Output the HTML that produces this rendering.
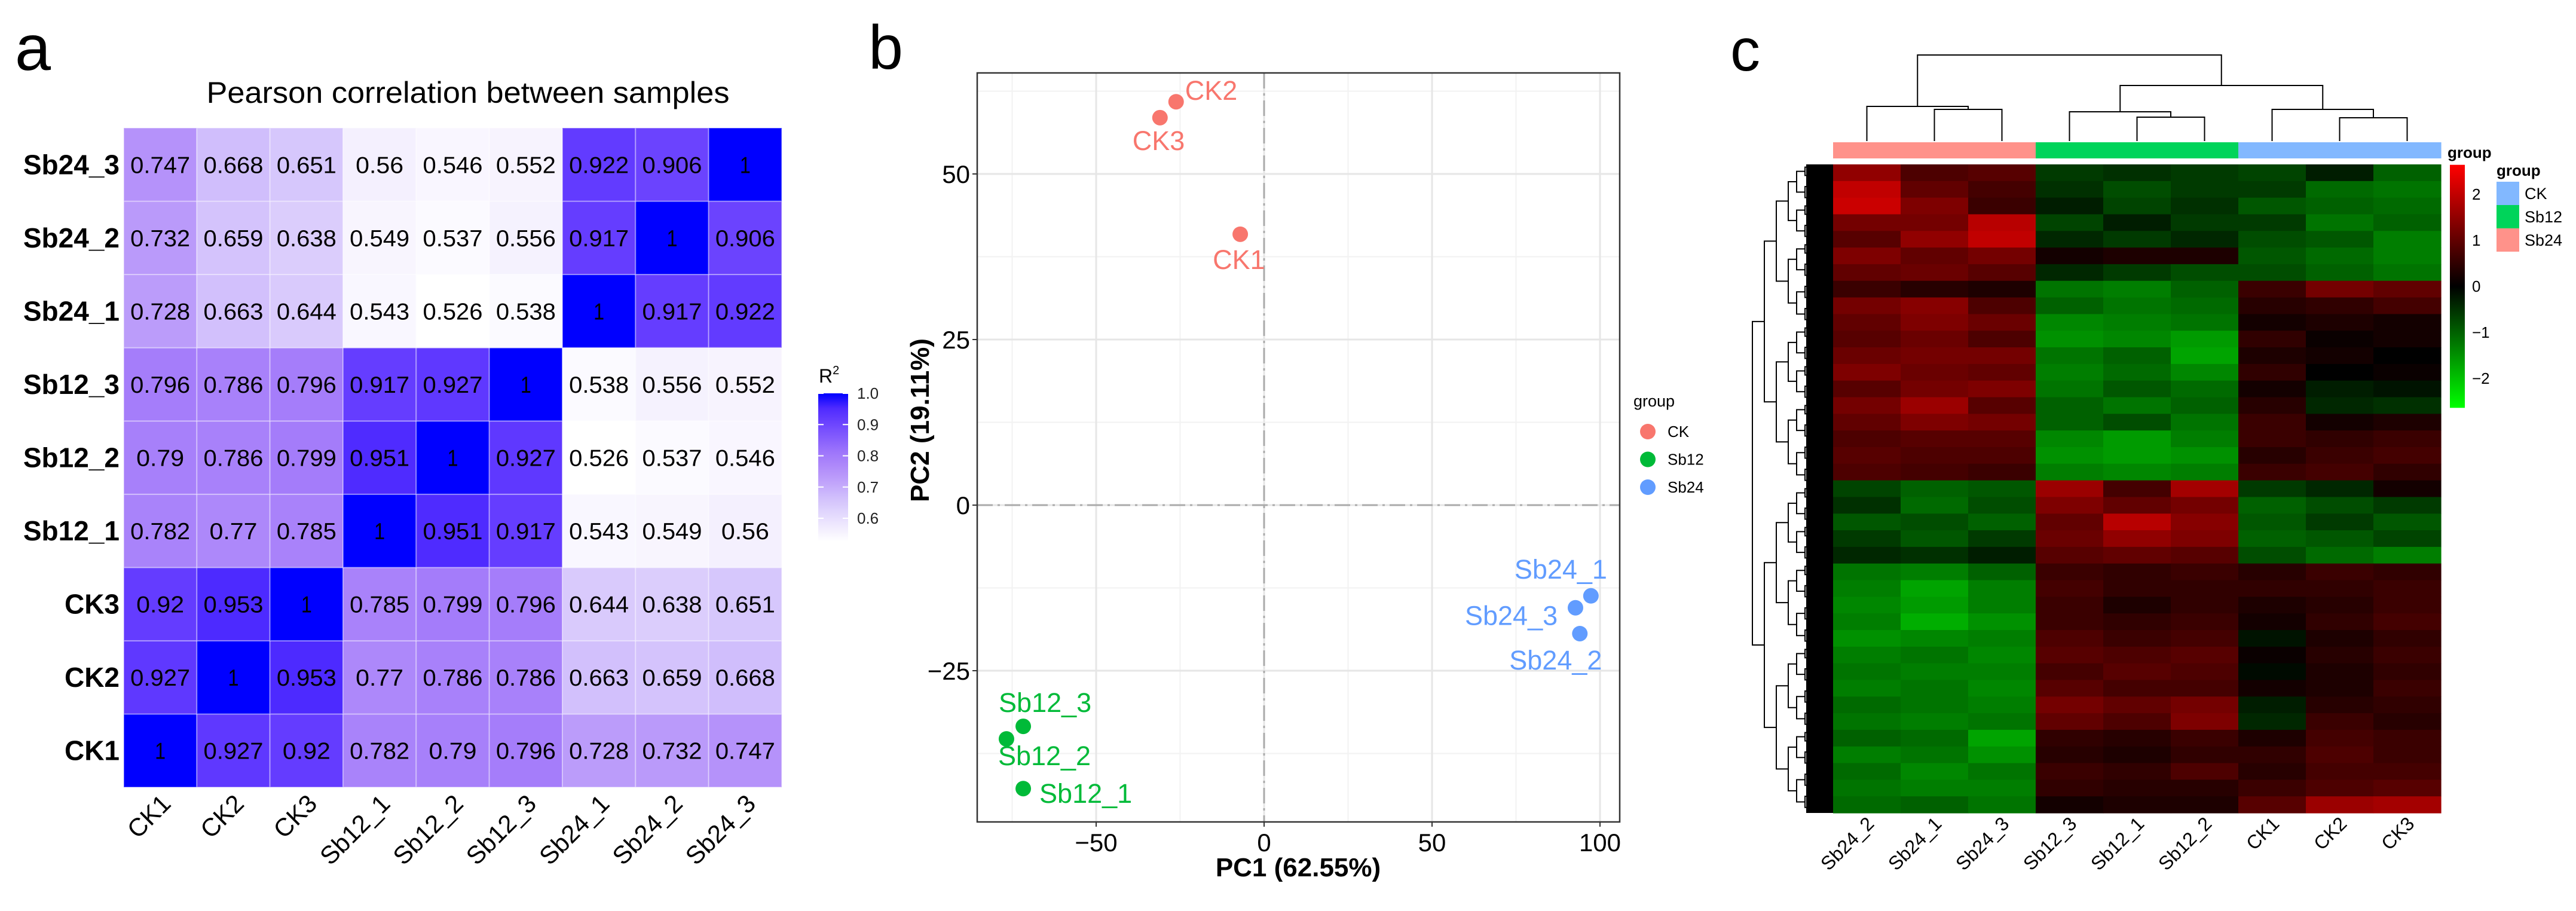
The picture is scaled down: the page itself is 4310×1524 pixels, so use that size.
<!DOCTYPE html>
<html><head><meta charset="utf-8"><style>
html,body{margin:0;padding:0;background:#fff;}
svg{display:block;font-family:"Liberation Sans",Arial,sans-serif;}
</style></head><body>
<svg id="fig" width="4310" height="1524" viewBox="0 0 4310 1524" xmlns="http://www.w3.org/2000/svg">
<rect width="4310" height="1524" fill="#fff"/>
<g id="pa"></g>
<g id="pb"></g>
<g id="pc"></g>
</svg>
<script>
// ---------- Panel A data ----------
const aSamples = ["CK1","CK2","CK3","Sb12_1","Sb12_2","Sb12_3","Sb24_1","Sb24_2","Sb24_3"];
const aCK1   = [1,0.927,0.92,0.782,0.79,0.796,0.728,0.732,0.747];
const aCK2   = [0.927,1,0.953,0.77,0.786,0.786,0.663,0.659,0.668];
const aCK3   = [0.92,0.953,1,0.785,0.799,0.796,0.644,0.638,0.651];
const aSb12_1= [0.782,0.77,0.785,1,0.951,0.917,0.543,0.549,0.56];
const aSb12_2= [0.79,0.786,0.799,0.951,1,0.927,0.526,0.537,0.546];
const aSb12_3= [0.796,0.786,0.796,0.917,0.927,1,0.538,0.556,0.552];
const aSb24_1= [0.728,0.663,0.644,0.543,0.526,0.538,1,0.917,0.922];
const aSb24_2= [0.732,0.659,0.638,0.549,0.537,0.556,0.917,1,0.906];
const aSb24_3= [0.747,0.668,0.651,0.56,0.546,0.552,0.922,0.906,1];
const aLegendTicks = [0.6,0.7,0.8,0.9,1.0];
const aLegendLabels = ["0.6","0.7","0.8","0.9","1.0"];

// ---------- Panel B data ----------
const bNames  = ["CK1","CK2","CK3","Sb12_1","Sb12_2","Sb12_3","Sb24_1","Sb24_2","Sb24_3"];
const bGroups = ["CK","CK","CK","Sb12","Sb12","Sb12","Sb24","Sb24","Sb24"];
const bPC1 = [-7.1,-26.2,-31,-71.7,-76.7,-71.7,97.3,94,92.7];
const bPC2 = [40.9,60.9,58.5,-42.8,-35.3,-33.4,-13.7,-19.4,-15.5];
const bXTicks = [-50,0,50,100];
const bYTicks = [-25,0,25,50];
const bXTickLabels = ["\u221250","0","50","100"];
const bYTickLabels = ["\u221225","0","25","50"];

// ---------- Panel C data ----------
const cSamples = ["Sb24_2","Sb24_1","Sb24_3","Sb12_3","Sb12_1","Sb12_2","CK1","CK2","CK3"];
const cGroups  = ["Sb24","Sb24","Sb24","Sb12","Sb12","Sb12","CK","CK","CK"];
const cRows = [
[1.5,0.8,0.9,-0.6,-0.5,-0.6,-0.7,-0.3,-1],
[2.0,1.0,0.7,-0.5,-0.8,-0.6,-0.6,-1.1,-1.2],
[2.1,1.3,0.6,-0.3,-0.7,-0.5,-0.9,-1.0,-1.1],
[1.2,1.2,1.9,-0.7,-0.3,-0.6,-0.6,-1.2,-1.0],
[0.9,1.5,2.0,-0.4,-0.6,-0.4,-0.8,-0.9,-1.3],
[1.3,1.0,1.2,0.2,0.3,0.3,-0.9,-1.1,-1.3],
[1.0,1.1,0.9,-0.4,-0.6,-0.8,-0.8,-1.0,-1.2],
[0.6,0.4,0.3,-1.2,-1.3,-1.0,0.6,1.2,1.0],
[1.2,1.4,0.8,-1.0,-1.2,-1.1,0.4,0.5,0.7],
[1.0,1.3,1.1,-1.4,-1.3,-1.2,0.2,0.3,0.2],
[0.9,1.1,0.8,-1.5,-1.4,-1.6,0.5,0.1,0.2],
[1.1,1.2,1.2,-1.2,-1.0,-1.7,0.3,0.2,0.0],
[1.3,1.1,1.0,-1.3,-1.1,-1.4,0.5,0.0,0.1],
[0.9,1.2,1.3,-1.2,-0.9,-1.1,0.2,-0.3,-0.2],
[1.2,1.6,0.9,-1.0,-1.2,-1.0,0.4,-0.4,-0.5],
[1.0,1.3,1.2,-1.0,-0.8,-1.2,0.6,0.2,0.3],
[0.8,0.9,0.9,-1.4,-1.6,-1.3,0.6,0.5,0.6],
[0.9,0.8,0.8,-1.5,-1.6,-1.5,0.4,0.6,0.7],
[0.8,0.7,0.6,-1.3,-1.4,-1.3,0.6,0.7,0.5],
[-0.7,-1.0,-0.9,1.6,0.7,1.7,-0.6,-0.4,0.2],
[-0.5,-1.1,-0.8,1.3,1.0,1.2,-1.0,-0.8,-0.6],
[-0.9,-0.8,-1.0,1.0,1.9,1.4,-0.9,-0.6,-0.9],
[-0.6,-0.9,-0.6,1.1,1.5,1.3,-1.0,-0.9,-0.7],
[-0.4,-0.5,-0.3,0.9,1.0,0.9,-0.8,-1.1,-1.3],
[-1.2,-1.3,-1.0,0.6,0.5,0.6,0.4,0.6,0.5],
[-1.3,-1.7,-1.3,0.7,0.5,0.5,0.5,0.5,0.6],
[-1.4,-1.6,-1.3,0.6,0.3,0.5,0.3,0.4,0.6],
[-1.3,-1.8,-1.5,0.6,0.5,0.6,0.2,0.5,0.7],
[-1.5,-1.4,-1.3,0.8,0.6,0.7,-0.2,0.3,0.5],
[-1.3,-1.2,-1.4,0.9,0.8,0.9,0.1,0.4,0.6],
[-1.2,-1.3,-1.3,0.7,0.9,0.8,-0.1,0.3,0.5],
[-1.3,-1.2,-1.4,0.9,0.7,0.7,0.2,0.3,0.6],
[-1.1,-1.2,-1.3,1.2,1.0,1.2,-0.3,0.4,0.5],
[-1.2,-1.3,-1.2,1.0,0.8,1.3,-0.4,0.6,0.4],
[-1.0,-1.1,-1.7,0.5,0.4,0.6,0.3,0.7,0.6],
[-1.3,-1.2,-1.5,0.4,0.3,0.5,0.5,0.8,0.6],
[-1.1,-1.4,-1.2,0.6,0.5,0.8,0.4,0.7,0.7],
[-1.2,-1.3,-1.3,0.5,0.4,0.4,0.6,0.8,0.9],
[-1.1,-1.0,-1.2,0.2,0.3,0.3,0.9,1.6,1.7]
];
const cScaleTicks = [2,1,0,-1,-2];
const cScaleLabels = ["2","1","0","\u22121","\u22122"];
const cLegendGroups = ["CK","Sb12","Sb24"];

const NS="http://www.w3.org/2000/svg";
function mk(parent,tag,attrs,text){const e=document.createElementNS(NS,tag);for(const k in attrs)e.setAttribute(k,attrs[k]);if(text!==undefined)e.textContent=text;parent.appendChild(e);return e;}

// ================= PANEL A =================
(function(){
const g=document.getElementById('pa');
const aMatrix=[aCK1,aCK2,aCK3,aSb12_1,aSb12_2,aSb12_3,aSb24_1,aSb24_2,aSb24_3];
const L=207,R=1308,T=214,B=1317,n=aSamples.length;
const cw=(R-L)/n, ch=(B-T)/n;
const vmin=0.526,vmax=1;
const anchors=[[0,255,255,255],[0.26,215,200,252],[0.47,180,145,250],[0.57,165,125,250],[0.83,100,60,255],[0.9,78,42,255],[1,0,0,255]];
function col(v){let t=(v-vmin)/(vmax-vmin);t=Math.max(0,Math.min(1,t));for(let i=1;i<anchors.length;i++){if(t<=anchors[i][0]){const a=anchors[i-1],b=anchors[i];const f=(t-a[0])/(b[0]-a[0]);return `rgb(${Math.round(a[1]+(b[1]-a[1])*f)},${Math.round(a[2]+(b[2]-a[2])*f)},${Math.round(a[3]+(b[3]-a[3])*f)})`;}}return 'rgb(0,0,255)';}
const xs=j=>L+j*cw, ys=i=>B-(i+1)*ch;
let t=mk(g,'text',{x:55,y:117,'font-size':108,'text-anchor':'middle',fill:'#000'},'a');

t=mk(g,'text',{x:783,y:172,'font-size':50,'text-anchor':'middle',textLength:875,lengthAdjust:'spacingAndGlyphs',fill:'#000'},'Pearson correlation between samples');

for(let i=0;i<n;i++)for(let j=0;j<n;j++){
  const v=aMatrix[i][j];
  const r=mk(g,'rect',{x:xs(j),y:ys(i),width:cw,height:ch,fill:col(v),stroke:'#ffffff','stroke-opacity':0.35,'stroke-width':2});
  
  
  const tx=mk(g,'text',{x:xs(j)+cw/2,y:ys(i)+ch/2+14,'font-size':39,'text-anchor':'middle',fill:'#000',textLength:String(v).length>1?String(v).length*20:18,lengthAdjust:'spacingAndGlyphs'},String(v));
  
  
}
for(let i=0;i<n;i++){
  const tl=mk(g,'text',{x:200,y:ys(i)+ch/2+16,'font-size':46,'font-weight':'bold','text-anchor':'end',fill:'#000'},aSamples[i]);
  
  
  const xl=mk(g,'text',{transform:`translate(${xs(i)+cw/2+20},${B+30}) rotate(-45)`,'font-size':42,'text-anchor':'end',fill:'#000'},aSamples[i]);
  
  
}
const lx=1369,lw=50;const yv=v=>867-(v-0.6)*(867-658)/0.4;
const defs=mk(g,'defs',{});const gr=mk(defs,'linearGradient',{id:'agrad',x1:0,y1:1,x2:0,y2:0});
for(let k=0;k<=10;k++){const v=vmin+(vmax-vmin)*k/10;mk(gr,'stop',{offset:k/10,'stop-color':col(v)});}
const lb=mk(g,'rect',{x:lx,y:yv(1),width:lw,height:yv(vmin)-yv(1),fill:'url(#agrad)'});

t=mk(g,'text',{x:1370,y:640,'font-size':32,fill:'#000'},'R');
mk(t,'tspan',{dy:-14,'font-size':20},'2');
aLegendTicks.forEach((v,k)=>{
  mk(g,'line',{x1:lx,x2:lx+9,y1:yv(v),y2:yv(v),stroke:'#fff','stroke-width':2});
  mk(g,'line',{x1:lx+lw-9,x2:lx+lw,y1:yv(v),y2:yv(v),stroke:'#fff','stroke-width':2});
  const tl=mk(g,'text',{x:1434,y:yv(v)+9,'font-size':26,fill:'#222'},aLegendLabels[k]);
  
});
})();

// ================= PANEL B =================
(function(){
const g=document.getElementById('pb');
const L=1635,R=2710,T=122,B=1375;
const x0=2115,xk=5.62,y0=845,yk=11.08;
const xs=v=>x0+v*xk, ys=v=>y0-v*yk;
const colors={CK:'#F8766D',Sb12:'#00BA38',Sb24:'#619CFF'};
let t=mk(g,'text',{x:1482,y:115,'font-size':104,'text-anchor':'middle',fill:'#000'},'b');

mk(g,'rect',{x:L,y:T,width:R-L,height:B-T,fill:'#fff'});
[-75,-25,25,75].forEach(v=>mk(g,'line',{x1:xs(v),x2:xs(v),y1:T,y2:B,stroke:'#f2f2f2','stroke-width':2}));
[-37.5,-12.5,12.5,37.5,62.5].forEach(v=>mk(g,'line',{x1:L,x2:R,y1:ys(v),y2:ys(v),stroke:'#f2f2f2','stroke-width':2}));
bXTicks.forEach(v=>mk(g,'line',{x1:xs(v),x2:xs(v),y1:T,y2:B,stroke:'#e6e6e6','stroke-width':3}));
bYTicks.forEach(v=>mk(g,'line',{x1:L,x2:R,y1:ys(v),y2:ys(v),stroke:'#e6e6e6','stroke-width':3}));
mk(g,'line',{x1:xs(0),x2:xs(0),y1:T,y2:B,stroke:'#aaaaaa','stroke-width':3,'stroke-dasharray':'26 8 4 8'});
mk(g,'line',{x1:L,x2:R,y1:ys(0),y2:ys(0),stroke:'#aaaaaa','stroke-width':3,'stroke-dasharray':'26 8 4 8'});
const fr=mk(g,'rect',{x:L,y:T,width:R-L,height:B-T,fill:'none',stroke:'#333','stroke-width':2.5});

bXTicks.forEach((v,k)=>{mk(g,'line',{x1:xs(v),x2:xs(v),y1:B,y2:B+8,stroke:'#333','stroke-width':2});
  const tl=mk(g,'text',{x:xs(v),y:B+49,'font-size':42,'text-anchor':'middle',fill:'#000'},bXTickLabels[k]);
  });
bYTicks.forEach((v,k)=>{mk(g,'line',{x1:L-8,x2:L,y1:ys(v),y2:ys(v),stroke:'#333','stroke-width':2});
  const tl=mk(g,'text',{x:L-12,y:ys(v)+15,'font-size':42,'text-anchor':'end',fill:'#000'},bYTickLabels[k]);
  });
t=mk(g,'text',{x:2172,y:1466,'font-size':44,'font-weight':'bold','text-anchor':'middle',fill:'#000'},'PC1 (62.55%)');

t=mk(g,'text',{transform:'translate(1554,703) rotate(-90)','font-size':44,'font-weight':'bold','text-anchor':'middle',fill:'#000'},'PC2 (19.11%)');

const off={CK1:[-46,58],CK2:[15,-3],CK3:[-46,54],Sb12_1:[27,24],Sb12_2:[-14,44],Sb12_3:[-41,-24],Sb24_1:[-128,-29],Sb24_3:[-185,29],Sb24_2:[-118,60]};
bNames.forEach((nm,i)=>{
  const cx=xs(bPC1[i]),cy=ys(bPC2[i]);
  const c=mk(g,'circle',{cx:cx,cy:cy,r:13,fill:colors[bGroups[i]]});
  
  const tl=mk(g,'text',{x:cx+off[nm][0],y:cy+off[nm][1],'font-size':45,fill:colors[bGroups[i]]},nm);
  
});
t=mk(g,'text',{x:2733,y:680,'font-size':27,fill:'#000'},'group');

['CK','Sb12','Sb24'].forEach((k,i)=>{
  const c=mk(g,'circle',{cx:2757,cy:722+i*46.5,r:13,fill:colors[k]});
  
  const tl=mk(g,'text',{x:2790,y:731+i*46.5,'font-size':26,fill:'#000'},k);
  
});
})();

// ================= PANEL C =================
(function(){
const g=document.getElementById('pc');
const L=3067,R=4084,T=275,B=1360,n=cSamples.length,m=cRows.length;
const cw=(R-L)/n, rh=(B-T)/m;
const vmax=2.64;
function col(v){const t=Math.max(-1,Math.min(1,v/vmax));return t>=0?`rgb(${Math.round(255*t)},0,0)`:`rgb(0,${Math.round(-255*t)},0)`;}
const gcol={CK:'#82B8FF',Sb12:'#00D45A',Sb24:'#FF928A'};
let t=mk(g,'text',{x:2920,y:118,'font-size':100,'text-anchor':'middle',fill:'#000'},'c');

cRows.forEach((row,r)=>row.forEach((v,j)=>{
  const c=mk(g,'rect',{x:L+j*cw,y:T+r*rh,width:cw+0.6,height:rh+0.6,fill:col(v)});
  
}));
cGroups.forEach((gp,j)=>{const a=mk(g,'rect',{x:L+j*cw,y:238,width:cw+0.6,height:27,fill:gcol[gp]});
  });
t=mk(g,'text',{x:4095,y:264,'font-size':26,'font-weight':'bold',fill:'#000'},'group');

const cx=j=>L+(j+0.5)*cw;
const dg=mk(g,'g',{stroke:'#000','stroke-width':2,fill:'none'});

function U(x1,x2,y,y1b,y2b){mk(dg,'path',{d:`M${x1} ${y1b} V${y} H${x2} V${y2b}`});}
U(cx(1),cx(2),183,236,236); U(cx(0),(cx(1)+cx(2))/2,178,236,183);
U(cx(4),cx(5),196,236,236); U(cx(3),(cx(4)+cx(5))/2,187,236,196);
U(cx(7),cx(8),197,236,236); U(cx(6),(cx(7)+cx(8))/2,183,236,197);
const m1=(cx(3)+(cx(4)+cx(5))/2)/2, m2=(cx(6)+(cx(7)+cx(8))/2)/2;
U(m1,m2,143,187,183);
const m0=(cx(0)+(cx(1)+cx(2))/2)/2;
U(m0,(m1+m2)/2,92,178,143);
const rg=mk(g,'g',{stroke:'#000','stroke-width':2,fill:'none'});

mk(rg,'rect',{x:3022,y:T,width:L-3022,height:B-T,fill:'#000',stroke:'none'});
const leaves=m*3, lh=(B-T)/leaves;
function tree(a,b,depth){
  if(b-a<=1) return {y:T+(a+0.5)*lh,x:3040};
  const mid=Math.floor((a+b)/2);
  const l=tree(a,mid,depth+1), r=tree(mid,b,depth+1);
  const x=Math.min(l.x,r.x)-(depth<3?20:(depth<5?14:10));
  mk(rg,'path',{d:`M${l.x} ${l.y} H${x} V${r.y} H${r.x}`});
  return {x:x,y:(l.y+r.y)/2};
}
tree(0,leaves,0);
const sx=4099,sw=25;const sy=v=>479-v*77;
const defs=mk(g,'defs',{});const gr=mk(defs,'linearGradient',{id:'cgrad',x1:0,y1:0,x2:0,y2:1});
[[0,'#ff0000'],[0.5,'#000000'],[1,'#00ff00']].forEach(s=>mk(gr,'stop',{offset:s[0],'stop-color':s[1]}));
const cb=mk(g,'rect',{x:sx,y:sy(2.64),width:sw,height:sy(-2.64)-sy(2.64),fill:'url(#cgrad)'});

cScaleTicks.forEach((v,k)=>{const tl=mk(g,'text',{x:4136,y:sy(v)+9,'font-size':26,fill:'#000'},cScaleLabels[k]);
  });
t=mk(g,'text',{x:4177,y:294,'font-size':26,'font-weight':'bold',fill:'#000'},'group');

cLegendGroups.forEach((k,i)=>{
  const b=mk(g,'rect',{x:4177,y:304+i*39,width:38,height:39,fill:gcol[k]});
  
  const tl=mk(g,'text',{x:4224,y:333+i*39,'font-size':27,fill:'#000'},k);
  
});
cSamples.forEach((s,j)=>{
  const tl=mk(g,'text',{transform:`translate(${cx(j)+14},${B+20}) rotate(-45)`,'font-size':32,'text-anchor':'end',fill:'#000'},s);
  
});
})();
</script>
</body></html>
